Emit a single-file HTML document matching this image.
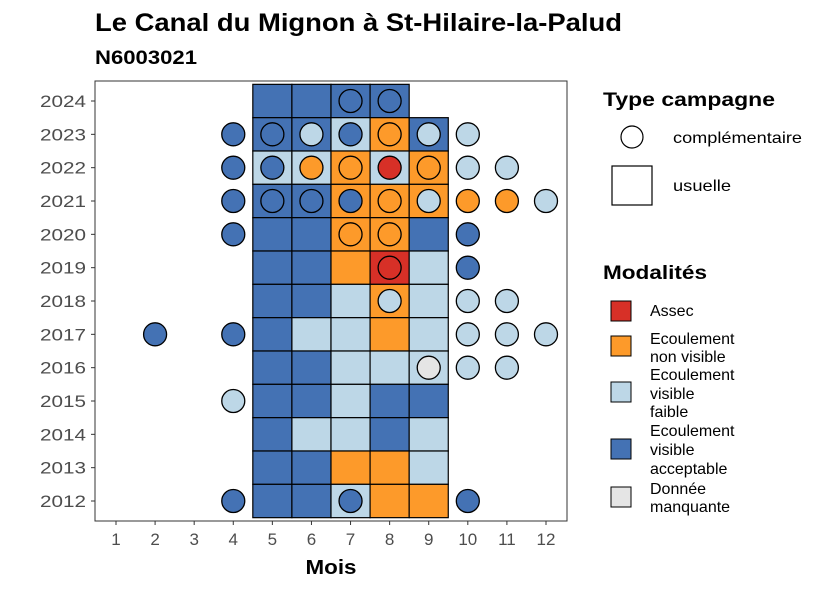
<!DOCTYPE html>
<html><head><meta charset="utf-8"><style>
body{margin:0;background:#fff;}
svg{display:block;font-family:"Liberation Sans",Arial,sans-serif;}
</style></head><body>
<svg id="c" width="826" height="590" viewBox="0 0 826 590">
<text x="95" y="31" font-size="25" font-weight="bold" fill="#000" textLength="527" lengthAdjust="spacingAndGlyphs">Le Canal du Mignon à St-Hilaire-la-Palud</text>
<text x="95" y="64" font-size="19" font-weight="bold" fill="#000" textLength="102" lengthAdjust="spacingAndGlyphs">N6003021</text>
<g id="tiles"></g><g id="pts"></g><g id="axes"></g>
<g id="legend">
<text x="603" y="106" font-size="19" font-weight="bold" textLength="172" lengthAdjust="spacingAndGlyphs">Type campagne</text>
<circle cx="632" cy="137" r="11" fill="#fff" stroke="#000" stroke-width="1.2"/>
<text x="673" y="143" font-size="16" textLength="129" lengthAdjust="spacingAndGlyphs">complémentaire</text>
<rect x="612" y="166" width="40" height="39" fill="#fff" stroke="#000" stroke-width="1.2"/>
<text x="673" y="191" font-size="16" textLength="58" lengthAdjust="spacingAndGlyphs">usuelle</text>
<text x="603" y="279" font-size="19" font-weight="bold" textLength="104" lengthAdjust="spacingAndGlyphs">Modalités</text>
<rect x="611" y="301" width="20" height="20" fill="#d73027" stroke="#000"/>
<text x="650" y="316" font-size="16">Assec</text>
<rect x="611" y="336" width="20" height="20" fill="#fd9a2a" stroke="#000"/>
<text x="650" y="344" font-size="16"><tspan x="650">Ecoulement</tspan><tspan x="650" dy="18">non visible</tspan></text>
<rect x="611" y="382" width="20" height="20" fill="#bdd7e7" stroke="#000"/>
<text x="650" y="380" font-size="16"><tspan x="650">Ecoulement</tspan><tspan x="650" dy="19">visible</tspan><tspan x="650" dy="18">faible</tspan></text>
<rect x="611" y="439" width="20" height="20" fill="#4472b4" stroke="#000"/>
<text x="650" y="436" font-size="16"><tspan x="650">Ecoulement</tspan><tspan x="650" dy="19">visible</tspan><tspan x="650" dy="19">acceptable</tspan></text>
<rect x="611" y="487" width="20" height="20" fill="#e5e5e5" stroke="#000"/>
<text x="650" y="494" font-size="16"><tspan x="650">Donnée</tspan><tspan x="650" dy="18">manquante</tspan></text>
</g>
</svg>
<script>
const months=[1,2,3,4,5,6,7,8,9,10,11,12];
const years=[2012,2013,2014,2015,2016,2017,2018,2019,2020,2021,2022,2023,2024];
const colors={A:"#d73027",N:"#fd9a2a",F:"#bdd7e7",V:"#4472b4",M:"#e5e5e5"};
// usual campaigns: [year, month, code]
const tileYears=[2024,2024,2024,2024,2023,2023,2023,2023,2023,2022,2022,2022,2022,2022,2021,2021,2021,2021,2021,2020,2020,2020,2020,2020,2019,2019,2019,2019,2019,2018,2018,2018,2018,2018,2017,2017,2017,2017,2017,2016,2016,2016,2016,2016,2015,2015,2015,2015,2015,2014,2014,2014,2014,2014,2013,2013,2013,2013,2013,2012,2012,2012,2012,2012];
const tileMonths=[5,6,7,8,5,6,7,8,9,5,6,7,8,9,5,6,7,8,9,5,6,7,8,9,5,6,7,8,9,5,6,7,8,9,5,6,7,8,9,5,6,7,8,9,5,6,7,8,9,5,6,7,8,9,5,6,7,8,9,5,6,7,8,9];
const tileCodes=["V","V","V","V","V","V","F","N","V","F","F","N","F","N","V","V","N","N","N","V","V","N","N","V","V","V","N","A","F","V","V","F","N","F","V","F","F","N","F","V","V","F","F","F","V","V","F","V","V","V","F","F","V","F","V","V","N","N","F","V","V","F","N","N"];
// complementary campaigns
const ptYears=[2024,2024,2023,2023,2023,2023,2023,2023,2023,2022,2022,2022,2022,2022,2022,2022,2022,2021,2021,2021,2021,2021,2021,2021,2021,2021,2020,2020,2020,2020,2019,2019,2018,2018,2018,2017,2017,2017,2017,2017,2016,2016,2016,2015,2012,2012,2012];
const ptMonths=[7,8,4,5,6,7,8,9,10,4,5,6,7,8,9,10,11,4,5,6,7,8,9,10,11,12,4,7,8,10,8,10,8,10,11,2,4,10,11,12,9,10,11,4,4,7,10];
const ptCodes=["V","V","V","V","F","V","N","F","F","V","V","N","N","A","N","F","F","V","V","V","V","N","F","N","N","F","V","N","N","V","A","V","F","F","F","V","V","F","F","F","M","F","F","F","V","V","V"];
const NS="http://www.w3.org/2000/svg";
const X0=95,X1=567,Y0=81,Y1=521;
const dx=39.09, dy=33.333;
const xs=m=>116+(m-1)*dx;
const ys=y=>501-(y-2012)*dy;
function mk(t,a,p){const e=document.createElementNS(NS,t);for(const k in a)e.setAttribute(k,a[k]);p.appendChild(e);return e;}
const tg=document.getElementById('tiles'),pg=document.getElementById('pts'),ag=document.getElementById('axes');
const fr=mk('rect',{x:X0,y:Y0,width:X1-X0,height:Y1-Y0,fill:'none',stroke:'#333','stroke-width':1},ag);


tileYears.forEach((y,i)=>{
  const r=mk('rect',{x:xs(tileMonths[i])-dx/2,y:ys(y)-dy/2,width:dx,height:dy,fill:colors[tileCodes[i]],stroke:'#000','stroke-width':1.2},tg);
  
  
});
ptYears.forEach((y,i)=>{
  const c=mk('circle',{cx:xs(ptMonths[i]),cy:ys(y),r:11.5,fill:colors[ptCodes[i]],stroke:'#000','stroke-width':1.3},pg);
  
  
});
months.forEach(m=>{
  mk('line',{x1:xs(m),x2:xs(m),y1:Y1,y2:Y1+4,stroke:'#333'},ag);
  const t=mk('text',{x:xs(m),y:Y1+24,'font-size':17,'text-anchor':'middle',fill:'#4d4d4d'},ag);
  t.textContent=m;
  
  
});
years.forEach(y=>{
  mk('line',{x1:X0-4,x2:X0,y1:ys(y),y2:ys(y),stroke:'#333'},ag);
  const t=mk('text',{x:X0-9,y:ys(y)+6,'font-size':17,'text-anchor':'end',fill:'#4d4d4d',textLength:46,lengthAdjust:'spacingAndGlyphs'},ag);
  t.textContent=y;
  
  
});
const xt=mk('text',{x:331,y:574,'font-size':20,'font-weight':'bold','text-anchor':'middle',textLength:51,lengthAdjust:'spacingAndGlyphs'},ag);
xt.textContent='Mois';


</script>
</body></html>
